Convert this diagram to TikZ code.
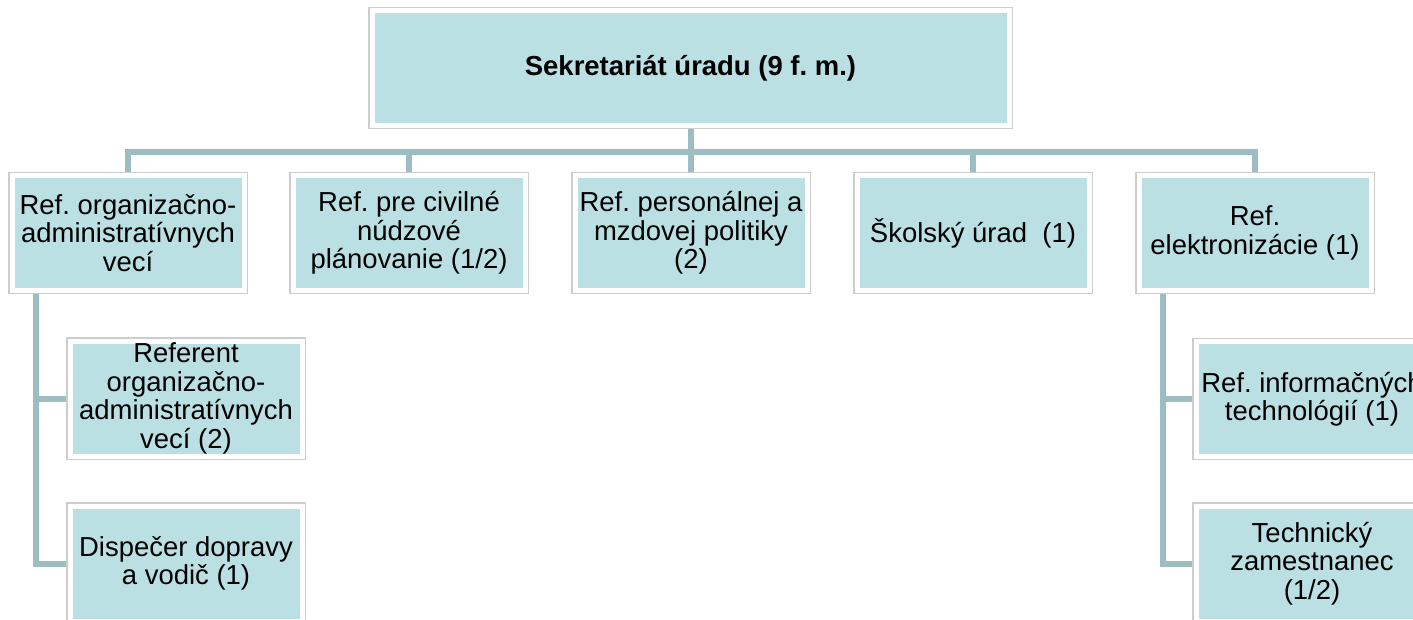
\documentclass[tikz,border=0pt]{standalone}
\usepackage{fontspec}
\setmainfont{Liberation Sans}
\usetikzlibrary{calc,backgrounds}
\frenchspacing

\definecolor{boxfill}{RGB}{186,224,227}
\definecolor{linkcol}{RGB}{156,189,194}
\definecolor{framegray}{RGB}{205,205,205}

\tikzset{
  unit/.style={fill=boxfill, draw=white, line width=3.75pt,
    preaction={draw=framegray, line width=5.3pt},
    minimum width=174pt, minimum height=86.25pt, inner sep=0pt,
    align=center, font=\fontsize{20.6}{21.4}\selectfont},
  link/.style={draw=linkcol, line width=4.5pt},
}

\begin{document}
\begin{tikzpicture}[x=0.75pt,y=0.75pt,yscale=-1,xscale=1]
\path[use as bounding box, clip] (0,0) rectangle (1413,619);

% top box
\node[unit, minimum width=477.75pt] (sekr) at (690.5,68) {\textbf{Sekretariát úradu (9 f. m.)}};

% first row
\node[unit] (orgadm) at (128,233) {Ref. organizačno-\\administratívnych\\vecí};
\node[unit] (civil) at (409,233) {Ref. pre civilné\\núdzové\\plánovanie (1/2)};
\node[unit] (person) at (691,233) {Ref. personálnej a\\mzdovej politiky\\(2)};
\node[unit] (skol) at (973,233) {Školský úrad \ (1)};
\node[unit] (elektr) at (1255,233) {Ref.\\elektronizácie (1)};

% children
\node[unit] (reforg) at (186,398.5) {Referent\\organizačno-\\administratívnych\\vecí (2)};
\node[unit] (dispec) at (186,563.5) {Dispečer dopravy\\a vodič (1)};
\node[unit] (refinf) at (1312,399) {Ref. informačných\\technológií (1)};
\node[unit] (technik) at (1312,563.5) {Technický\\zamestnanec\\(1/2)};

% connectors
\begin{scope}[on background layer]
\foreach \n in {orgadm,civil,person,skol,elektr}
  \draw[link] (sekr.south) -- ++(0,23.5) -| (\n.north);
\draw[link] ($(orgadm.south west)+(26,0)$) |- (reforg.west);
\draw[link] ($(orgadm.south west)+(26,0)$) |- (dispec.west);
\draw[link] ($(elektr.south west)+(26,0)$) |- (refinf.west);
\draw[link] ($(elektr.south west)+(26,0)$) |- (technik.west);
\end{scope}

\end{tikzpicture}
\end{document}
